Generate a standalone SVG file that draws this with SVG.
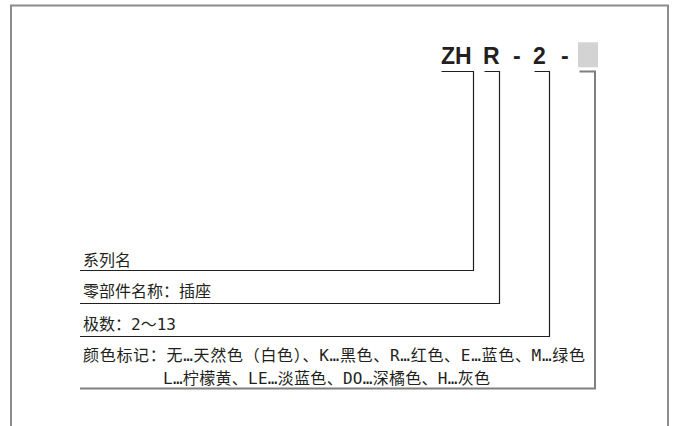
<svg xmlns="http://www.w3.org/2000/svg" width="676" height="426" viewBox="0 0 676 426">
<style>
.code{font-family:"Liberation Sans",Arial,sans-serif;font-weight:bold;font-size:23px;fill:#231f20}
.lbl{font-family:"DejaVu Sans Mono","Noto Sans CJK SC",monospace;font-size:16px;fill:#231f20}
.conn{fill:none;stroke:#231f20;stroke-width:1.2}
.conn2{fill:none;stroke:#7f7f7f;stroke-width:2}
.frame{fill:none;stroke:#8c8c8c;stroke-width:2}
</style>
<rect x="0" y="0" width="676" height="426" fill="#ffffff"/>
<path class="frame" d="M11 426 V5.5 H668 V426"/>
<g id="code">
<text class="code" x="441" y="64">ZH</text>
<text class="code" x="483" y="64">R</text>
<text class="code" x="513" y="64">-</text>
<text class="code" x="533" y="64">2</text>
<text class="code" x="561" y="64">-</text>
<rect x="578" y="42.3" width="20" height="25" fill="#d3d3d3"/>
</g>
<g id="connectors">
<polyline class="conn" points="441.5,71.5 473.5,71.5 473.5,270.5 80,270.5"/>
<polyline class="conn" points="484.5,71.5 499.5,71.5 499.5,303.5 80,303.5"/>
<polyline class="conn" points="534.5,71.5 549.5,71.5 549.5,336.5 80,336.5"/>
<polyline class="conn2" points="579.5,71.5 595,71.5 595,388.5 80,388.5"/>
</g>
<g id="series"><text class="lbl" x="83" y="265.5">系列名</text></g>
<g id="part"><text class="lbl" x="83" y="297">零部件名称：插座</text></g>
<g id="poles"><text class="lbl" x="83" y="330">极数：2～13</text></g>
<g id="color">
<text class="lbl" x="83" y="361" textLength="502" lengthAdjust="spacing">颜色标记：无…天然色（白色）、K…黑色、R…红色、E…蓝色、M…绿色</text>
<text class="lbl" x="163" y="384" textLength="327" lengthAdjust="spacing">L…柠檬黄、LE…淡蓝色、DO…深橘色、H…灰色</text>
</g>
</svg>
